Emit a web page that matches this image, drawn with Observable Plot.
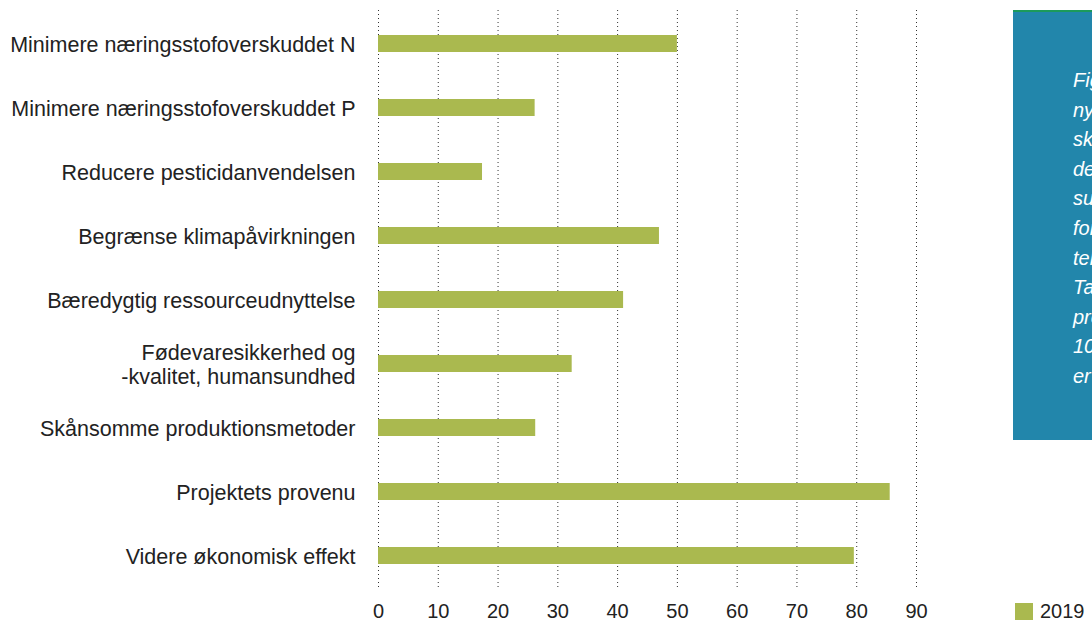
<!DOCTYPE html>
<html>
<head>
<meta charset="utf-8">
<script src="https://cdn.jsdelivr.net/npm/d3@7"></script>
<script src="https://cdn.jsdelivr.net/npm/@observablehq/plot@0.6"></script>
<style>
  html, body { margin: 0; padding: 0; background: #fff; }
  #wrap { position: relative; width: 1092px; height: 622px; overflow: hidden; font-family: "Liberation Sans", Arial, sans-serif; }
  #chart { position: absolute; left: 0; top: 0; }
  #note { position: absolute; left: 1013px; top: 10px; width: 200px; height: 430px; background: #2286AB; border-top: 2px solid #1C9A5B; box-sizing: border-box; padding: 54px 0 0 60px; color: #fff; font-style: italic; font-size: 20px; line-height: 29.6px; white-space: nowrap; }
  #legend { position: absolute; left: 1015px; top: 600px; height: 22px; display: flex; align-items: center; font-size: 20px; line-height: 22px; color: #222; }
  #legend .sw { width: 18px; height: 17px; margin-right: 7px; }
</style>
</head>
<body>
<div id="wrap">
  <div id="chart"></div>
  <div id="note"></div>
  <div id="legend"></div>
</div>
<script>
const categories = [
  "Minimere næringsstofoverskuddet N",
  "Minimere næringsstofoverskuddet P",
  "Reducere pesticidanvendelsen",
  "Begrænse klimapåvirkningen",
  "Bæredygtig ressourceudnyttelse",
  "Fødevaresikkerhed og\n-kvalitet, humansundhed",
  "Skånsomme produktionsmetoder",
  "Projektets provenu",
  "Videre økonomisk effekt"
];
const values2019 = [50, 26.2, 17.4, 47, 41, 32.4, 26.3, 85.6, 79.6];
const xTicks = [0, 10, 20, 30, 40, 50, 60, 70, 80, 90];
const seriesName = "2019";
const noteLines = ["Figuren viser", "nye projekters", "skøn over", "deres bidrag til", "succeskriterier", "for", "teknologierne.", "Tallene er", "procent af", "100 projekter", "er vist."];

const data = categories.map((c, i) => ({ category: c, value: values2019[i] }));
const barColor = "#AAB94F";

const chart = Plot.plot({
  width: 1092,
  height: 622,
  marginLeft: 378,
  marginRight: 176,
  marginTop: 10,
  marginBottom: 32.5,
  style: { fontFamily: "Liberation Sans, Arial, sans-serif", fontSize: "20px", color: "#222", background: "#fff" },
  x: { domain: [0, 90] },
  y: { domain: categories, paddingInner: 0.74, paddingOuter: 0.37 },
  marks: [
    Plot.ruleX(xTicks, { stroke: "#333", strokeDasharray: "1,3", strokeWidth: 1 }),
    Plot.barX(data, { x: "value", y: "category", fill: barColor }),
    Plot.axisX({ ticks: xTicks, tickSize: 0, tickPadding: 14, label: null, fontSize: 20, fill: "#222" }),
    Plot.axisY({ tickSize: 0, tickPadding: 23, label: null, fontSize: 21.5, fill: "#222", lineHeight: 1.13 })
  ]
});
document.getElementById("chart").appendChild(chart);

document.getElementById("note").innerHTML = noteLines.map(l => `<div>${l}</div>`).join("");
document.getElementById("legend").innerHTML = `<div class="sw" style="background:${barColor}"></div><span>${seriesName}</span>`;
</script>
</body>
</html>
